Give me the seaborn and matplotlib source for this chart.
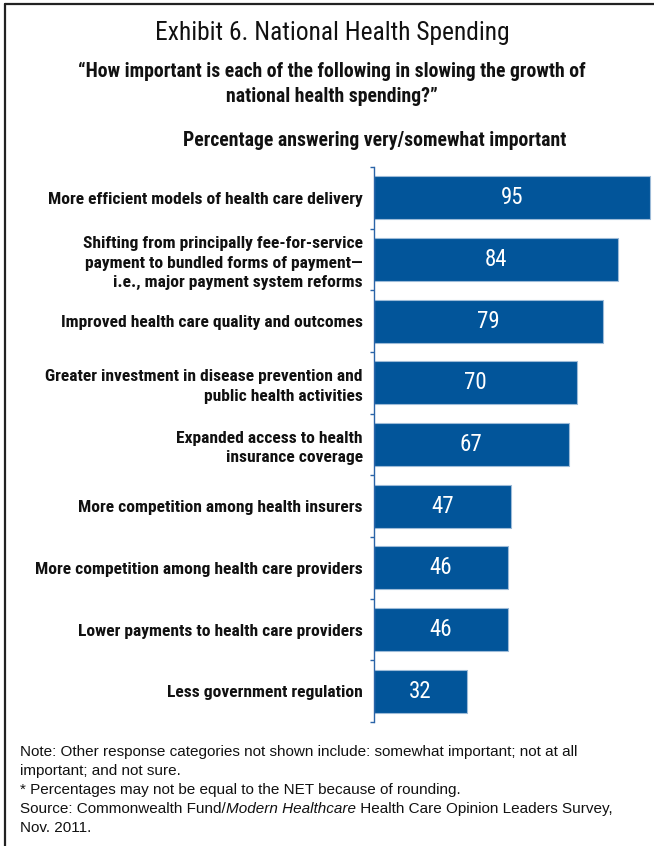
import matplotlib
matplotlib.use("Agg")
import matplotlib.pyplot as plt
from matplotlib.lines import Line2D
import seaborn as sns
import pandas as pd

categories = [
    "More efficient models of health care delivery",
    "Shifting from principally fee-for-service\npayment to bundled forms of payment\u2014\ni.e., major payment system reforms",
    "Improved health care quality and outcomes",
    "Greater investment in disease prevention and\npublic health activities",
    "Expanded access to health\ninsurance coverage",
    "More competition among health insurers",
    "More competition among health care providers",
    "Lower payments to health care providers",
    "Less government regulation",
]
values = [95, 84, 79, 70, 67, 47, 46, 46, 32]

BAR = "#02559A"
NARROW = ["Roboto Condensed", "Fira Sans Condensed", "DejaVu Sans"]

sns.set_theme(style="white")
plt.rcParams["font.family"] = ["Liberation Sans", "DejaVu Sans"]

W, H = 654, 846
fig = plt.figure(figsize=(W / 100, H / 100), dpi=100)
ax = fig.add_axes([374 / W, 1 - 722 / H, (W - 374) / W, (722 - 167) / H])

df = pd.DataFrame({"item": categories, "pct": values})
sns.barplot(data=df, x="pct", y="item", orient="h", color=BAR, saturation=1,
            width=0.70, edgecolor="#9dbbd8", linewidth=0.8, ax=ax)

ax.set_xlim(0, 96.4)
ax.set_ylim(8.5, -0.5)
ax.set_xlabel("")
ax.set_ylabel("")
ax.set_xticks([])
for s in ["top", "right", "bottom"]:
    ax.spines[s].set_visible(False)
ax.spines["left"].set_color("#2a64a8")
ax.spines["left"].set_linewidth(1.0)

ax.set_yticks(range(len(categories)))
ax.set_yticklabels(categories, fontfamily=NARROW, fontweight="bold",
                   fontsize=12.6, color="#111111", linespacing=1.35)
ax.set_yticks([i - 0.5 for i in range(len(categories) + 1)], minor=True)
ax.tick_params(axis="y", which="major", length=0, pad=8)
ax.tick_params(axis="y", which="minor", length=3, width=1.0, color="#2a64a8",
               direction="out", left=True)

for i, v in enumerate(values):
    ax.text(v / 2, i, str(v), ha="center", va="center", color="white",
            fontsize=16.5, fontfamily=NARROW, fontweight="normal")

fig.text(332 / W, 1 - 33 / H, "Exhibit 6. National Health Spending",
         ha="center", va="center", fontsize=18.4, fontfamily=NARROW, color="#111111")
fig.text(332 / W, 1 - 84 / H,
         "\u201cHow important is each of the following in slowing the growth of\nnational health spending?\u201d",
         ha="center", va="center", fontsize=14.2, fontfamily=NARROW, fontweight="bold",
         color="#111111", linespacing=1.38)
fig.text(375 / W, 1 - 141 / H, "Percentage answering very/somewhat important",
         ha="center", va="center", fontsize=14.2, fontfamily=NARROW, fontweight="bold",
         color="#111111")

notes = [
    "Note: Other response categories not shown include: somewhat important; not at all",
    "important; and not sure.",
    "* Percentages may not be equal to the NET because of rounding.",
]
FS = 11
for k, line in enumerate(notes):
    fig.text(20 / W, 1 - (752 + 19 * k) / H, line, ha="left", va="center",
             fontsize=FS, color="#111111")
src_y = 1 - (752 + 19 * 3) / H
t1 = fig.text(20 / W, src_y, "Source: Commonwealth Fund/", ha="left", va="center",
              fontsize=FS, color="#111111")
fig.canvas.draw()
r = fig.canvas.get_renderer()
bb = t1.get_window_extent(r)
t2 = fig.text(bb.x1 / W, src_y, "Modern Healthcare", ha="left", va="center",
              fontsize=FS, style="italic", color="#111111")
bb2 = t2.get_window_extent(r)
fig.text(bb2.x1 / W, src_y, " Health Care Opinion Leaders Survey,", ha="left",
         va="center", fontsize=FS, color="#111111")
fig.text(20 / W, 1 - (752 + 19 * 4) / H, "Nov. 2011.", ha="left", va="center",
         fontsize=FS, color="#111111")

# frame along the top and left edges
fig.add_artist(Line2D([4.5 / W, 1], [1 - 4.5 / H, 1 - 4.5 / H], color="#222222",
                      linewidth=1.6, transform=fig.transFigure))
fig.add_artist(Line2D([4.5 / W, 4.5 / W], [0, 1 - 4.5 / H], color="#222222",
                      linewidth=1.6, transform=fig.transFigure))

fig.savefig("out.png", dpi=100)
